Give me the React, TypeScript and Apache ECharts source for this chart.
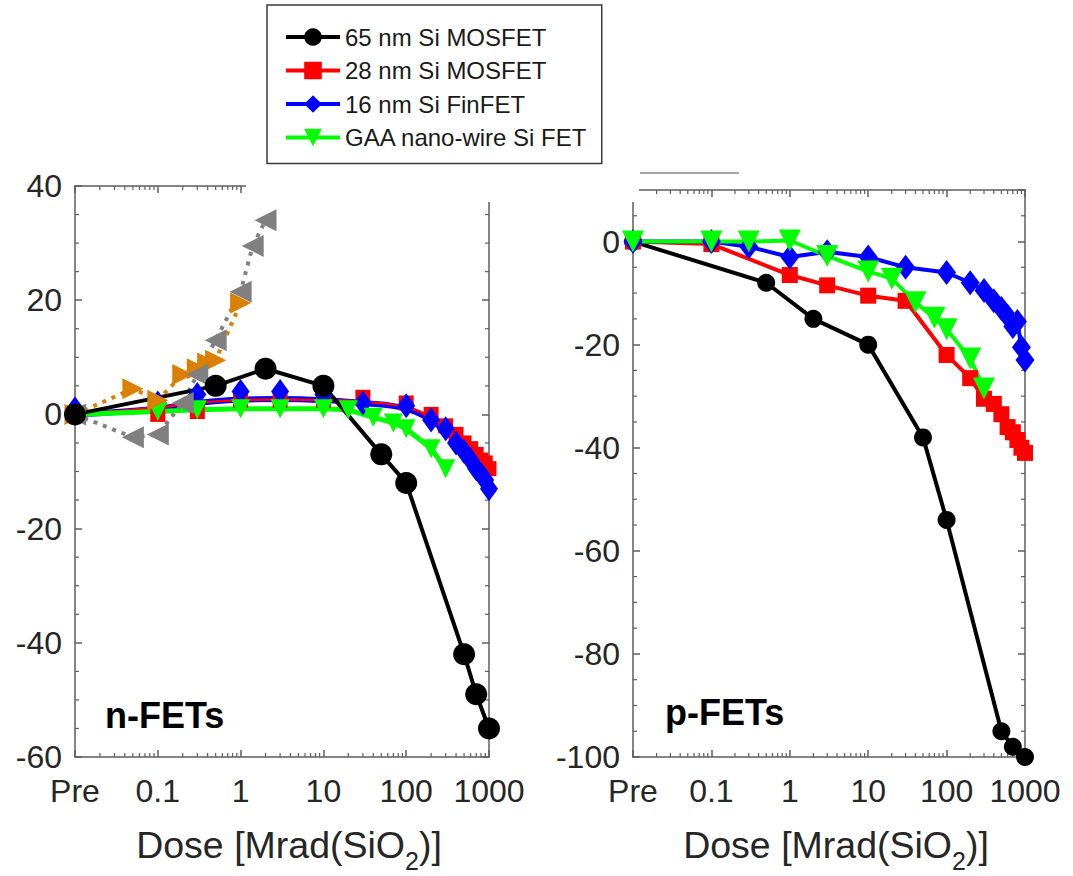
import React, { useEffect, useRef } from "react";
import * as echarts from "echarts";

const PRE = 0.01;
const X_TICK_LABELS = ["Pre", "0.1", "1", "10", "100", "1000"];
const NAMES = ["65 nm Si MOSFET", "28 nm Si MOSFET", "16 nm Si FinFET", "GAA nano-wire Si FET"];

// ---------- p-FETs ----------
const pBlackX = [PRE, 0.5, 2, 10, 50, 100, 500, 700, 1000];
const pBlackY = [0, -8, -15, -20, -38, -54, -95, -98, -100];
const pRedX = [PRE, 0.1, 1, 3, 10, 30, 100, 200, 300, 400, 500, 600, 700, 800, 900, 1000];
const pRedY = [0, -0.5, -6.5, -8.5, -10.5, -11.5, -22, -26.5, -30.5, -31.5, -33.5, -36, -37, -38.5, -40, -41];
const pBlueX = [PRE, 0.1, 0.3, 1, 3, 10, 30, 100, 200, 300, 400, 500, 600, 700, 800, 900, 1000];
const pBlueY = [0, 0, -1, -3, -2, -3, -5, -6, -8, -9.5, -11.5, -13, -14.5, -16.5, -15.5, -20.5, -23];
const pGreenX = [PRE, 0.1, 0.3, 1, 3, 10, 20, 40, 70, 100, 200, 300];
const pGreenY = [0, 0, 0, 0.2, -2.8, -5.8, -7.2, -11.8, -14.8, -17, -22.7, -28.5];

// ---------- n-FETs ----------
const nBlackX = [PRE, 0.5, 2, 10, 50, 100, 500, 700, 1000];
const nBlackY = [0, 5, 8, 5, -7, -12, -42, -49, -55];
const nRedX = [PRE, 0.1, 0.3, 1, 3, 10, 30, 100, 200, 300, 400, 500, 600, 700, 800, 900, 1000];
const nRedY = [0, 0, 0.5, 2.5, 2.5, 2.5, 3, 2, 0, -2, -3.5, -5, -6, -7, -8, -8.5, -9.5];
const nRedFitX = [PRE, 0.1, 0.3, 1, 3, 10, 30, 100, 200, 300, 500, 700, 1000];
const nRedFitY = [0, 1.2, 2, 2.5, 2.6, 2.5, 2.2, 1.3, -0.5, -2.5, -5.5, -8, -9.5];
const nBlueX = [PRE, 0.1, 0.3, 1, 3, 10, 30, 100, 200, 300, 400, 500, 600, 700, 800, 900, 1000];
const nBlueY = [1, 2, 3.5, 4, 4, 3.5, 2, 1.5, -1, -2.5, -5, -6.5, -8, -9.5, -10.5, -11.5, -13];
const nBlueFitX = [PRE, 0.1, 0.3, 1, 3, 10, 30, 100, 200, 300, 500, 700, 1000];
const nBlueFitY = [0, 1, 2, 2.6, 2.7, 2.5, 2, 1, -1, -3, -6, -9, -12];
const nGreenX = [PRE, 0.1, 0.3, 1, 3, 10, 20, 40, 70, 100, 200, 300];
const nGreenY = [0, 0.5, 0.8, 1, 1, 1, 0.8, -0.5, -1.5, -2.5, -6, -9.5];
const nGrayX = [PRE, 0.05, 0.1, 0.2, 0.3, 0.5, 1, 1.4, 2];
const nGrayY = [0, -4, -3.5, 2, 7, 13, 21.5, 29.5, 34];
const nOrangeX = [PRE, 0.05, 0.1, 0.2, 0.3, 0.4, 0.5, 1];
const nOrangeY = [0, 4.5, 2.5, 7, 8, 9, 9.5, 19.5];

const FONT = "'Liberation Sans', Arial, Helvetica, sans-serif";
const AXIS_COLOR = "#5e5e5e";
const LABEL_COLOR = "#262626";

const TRI_DOWN = "path://M0,0L2,0L1,2Z";
const TRI_LEFT = "path://M2,0L2,2L0,1Z";
const TRI_RIGHT = "path://M0,0L2,1L0,2Z";

// minor tick positions (axis decorations only)
const MINOR_X: number[] = [];
for (let e = -2; e < 3; e++) for (let k = 2; k <= 9; k++) MINOR_X.push(k * Math.pow(10, e));
function minorY(lo: number, hi: number) {
  const out: number[] = [];
  for (let v = lo; v <= hi; v += 5) if (v % 20 !== 0) out.push(v);
  return out;
}

const pairs = (xs: number[], ys: number[]) => xs.map((x, i) => [x, ys[i]]);

function line(name: string | undefined, xs: number[], ys: number[], gi: number, o: any) {
  return {
    type: "line",
    name,
    xAxisIndex: gi * 2,
    yAxisIndex: gi * 2,
    data: pairs(xs, ys),
    clip: false,
    symbol: o.symbol ?? "none",
    symbolSize: o.size ?? 10,
    showSymbol: o.symbol ? true : false,
    smooth: o.smooth ?? false,
    color: o.color,
    lineStyle: { color: o.color, width: o.width ?? 4, type: o.dash ?? "solid", opacity: o.noLine ? 0 : 1 },
    itemStyle: { color: o.color },
    emphasis: { disabled: true },
    z: o.z ?? 2,
  };
}

const TICK_STYLE = { stroke: AXIS_COLOR, lineWidth: 1.2 };
const MINOR_LEN = 4;

function xTicks(gi: number, yMin: number, yMax: number) {
  return {
    type: "custom",
    xAxisIndex: gi * 2,
    yAxisIndex: gi * 2,
    silent: true,
    z: 1,
    clip: false,
    data: MINOR_X.map((v) => [v, yMin]),
    encode: { x: 0, y: 1 },
    renderItem: (_p: any, api: any) => {
      const v = api.value(0);
      const b = api.coord([v, yMin]);
      const t = api.coord([v, yMax]);
      return {
        type: "group",
        children: [
          { type: "line", shape: { x1: b[0], y1: b[1], x2: b[0], y2: b[1] - MINOR_LEN }, style: TICK_STYLE },
          { type: "line", shape: { x1: t[0], y1: t[1], x2: t[0], y2: t[1] + MINOR_LEN }, style: TICK_STYLE },
        ],
      };
    },
  };
}

function yTicks(gi: number, vals: number[]) {
  return {
    type: "custom",
    xAxisIndex: gi * 2,
    yAxisIndex: gi * 2,
    silent: true,
    z: 1,
    clip: false,
    data: vals.map((v) => [1, v]),
    encode: { x: 0, y: 1 },
    renderItem: (_p: any, api: any) => {
      const v = api.value(1);
      const l = api.coord([PRE, v]);
      const r = api.coord([1000, v]);
      return {
        type: "group",
        children: [
          { type: "line", shape: { x1: l[0], y1: l[1], x2: l[0] + MINOR_LEN, y2: l[1] }, style: TICK_STYLE },
          { type: "line", shape: { x1: r[0], y1: r[1], x2: r[0] - MINOR_LEN, y2: r[1] }, style: TICK_STYLE },
        ],
      };
    },
  };
}

const axisLine = { show: true, onZero: false, lineStyle: { color: AXIS_COLOR, width: 1.5 } };
const axisTick = { show: true, inside: true, length: 7, lineStyle: { color: AXIS_COLOR, width: 1.5 } };

function xAxisDef(gi: number, position: string, main: boolean) {
  return {
    type: "log",
    logBase: 10,
    gridIndex: gi,
    position,
    min: PRE,
    max: 1000,
    axisLine,
    axisTick,
    splitLine: { show: false },
    axisLabel: main
      ? {
          show: true,
          margin: 18,
          fontSize: 32,
          color: LABEL_COLOR,
          fontFamily: FONT,
          formatter: (v: number) => X_TICK_LABELS[Math.round(Math.log10(v)) + 2] ?? "",
        }
      : { show: false },
    name: main ? "{a|Dose [Mrad(SiO}{s|2}{a|)]}" : "",
    nameLocation: "middle",
    nameGap: 69,
    nameTextStyle: {
      color: LABEL_COLOR,
      fontFamily: FONT,
      padding: [0, 0, 0, 14],
      rich: {
        a: { fontSize: 37.5, lineHeight: 40, verticalAlign: "top", color: LABEL_COLOR, fontFamily: FONT },
        s: { fontSize: 25, lineHeight: 20, padding: [22, 0, 0, 0], verticalAlign: "top", color: LABEL_COLOR, fontFamily: FONT },
      },
    },
  };
}

function yAxisDef(gi: number, position: string, min: number, max: number, main: boolean) {
  return {
    type: "value",
    gridIndex: gi,
    position,
    min,
    max,
    interval: 20,
    axisLine,
    axisTick,
    splitLine: { show: false },
    axisLabel: main
      ? { show: true, margin: 13, fontSize: 32, color: LABEL_COLOR, fontFamily: FONT, showMaxLabel: max % 20 === 0 }
      : { show: false },
  };
}

export default function App() {
  const ref = useRef<HTMLDivElement>(null);
  useEffect(() => {
    if (!ref.current) return;
    const chart = echarts.init(ref.current, undefined, { renderer: "svg" });
    const series: any[] = [
      // p-FETs (first so the legend takes its icons from them)
      line(NAMES[0], pBlackX, pBlackY, 1, { symbol: "circle", size: 18, color: "#000000", width: 4 }),
      line(NAMES[1], pRedX, pRedY, 1, { symbol: "rect", size: 16, color: "#ff0000", width: 4 }),
      line(NAMES[2], pBlueX, pBlueY, 1, { symbol: "diamond", size: [19, 25], color: "#0000ff", width: 4 }),
      line(NAMES[3], pGreenX, pGreenY, 1, { symbol: TRI_DOWN, size: 22, color: "#00ff00", width: 4 }),
      // n-FETs
      line(NAMES[1], nRedX, nRedY, 0, { symbol: "rect", size: 15, color: "#ff0000", noLine: true }),
      line(NAMES[2], nBlueX, nBlueY, 0, { symbol: "diamond", size: [18, 25], color: "#0000ff", noLine: true }),
      line(NAMES[2], nBlueFitX, nBlueFitY, 0, { color: "#0000ff", width: 6, smooth: 0.4 }),
      line(NAMES[1], nRedFitX, nRedFitY, 0, { color: "#ff0000", width: 2.5, smooth: 0.4 }),
      line(NAMES[3], nGreenX, nGreenY, 0, { symbol: TRI_DOWN, size: 19, color: "#00ff00", width: 5 }),
      line("orange", nOrangeX, nOrangeY, 0, { symbol: TRI_RIGHT, size: 21, color: "#db7f00", width: 4, dash: [4, 6] }),
      line("gray", nGrayX, nGrayY, 0, { symbol: TRI_LEFT, size: 22, color: "#808080", width: 4, dash: [4, 6] }),
      line(NAMES[0], nBlackX, nBlackY, 0, { symbol: "circle", size: 22, color: "#000000", width: 4 }),
      // minor ticks
      xTicks(0, -60, 40),
      xTicks(1, -100, 10),
      yTicks(0, minorY(-60, 40)),
      yTicks(1, minorY(-100, 10)),
    ];
    chart.setOption({
      animation: false,
      backgroundColor: "#ffffff",
      grid: [
        { left: 75, top: 186, width: 414, height: 571, outerBoundsMode: "none", containLabel: false },
        { left: 633, top: 190, width: 392, height: 567, outerBoundsMode: "none", containLabel: false },
      ],
      xAxis: [xAxisDef(0, "bottom", true), xAxisDef(0, "top", false), xAxisDef(1, "bottom", true), xAxisDef(1, "top", false)],
      yAxis: [
        yAxisDef(0, "left", -60, 40, true),
        yAxisDef(0, "right", -60, 40, false),
        yAxisDef(1, "left", -100, 10, true),
        yAxisDef(1, "right", -100, 10, false),
      ],
      legend: {
        data: NAMES,
        orient: "vertical",
        left: 267,
        top: 5,
        padding: [20, 14, 14, 17],
        itemWidth: 54,
        itemHeight: 22,
        itemGap: 9.5,
        backgroundColor: "#ffffff",
        borderColor: "#3a3a3a",
        borderWidth: 1.5,
        selectedMode: false,
        lineStyle: { width: 4 },
        textStyle: { fontSize: 24, color: "#1a1a1a", fontFamily: FONT },
      },
      graphic: [
        { type: "rect", z: 100, shape: { x: 246, y: 178, width: 250, height: 24 }, style: { fill: "#ffffff" } },
        { type: "rect", z: 100, shape: { x: 625, y: 182, width: 14, height: 20 }, style: { fill: "#ffffff" } },
        { type: "line", z: 100, shape: { x1: 640, y1: 173, x2: 739, y2: 173 }, style: { stroke: "#8a8a8a", lineWidth: 1.5 } },
        {
          type: "text",
          z: 100,
          x: 105,
          y: 715,
          style: { text: "n-FETs", fontSize: 36, fontWeight: "bold", fontFamily: FONT, fill: "#000000", verticalAlign: "middle" },
        },
        {
          type: "text",
          z: 100,
          x: 665,
          y: 712,
          style: { text: "p-FETs", fontSize: 36, fontWeight: "bold", fontFamily: FONT, fill: "#000000", verticalAlign: "middle" },
        },
      ],
      series,
    });
    return () => chart.dispose();
  }, []);
  return <div ref={ref} style={{ position: "absolute", left: 0, top: 0, width: 1073, height: 876 }} />;
}
